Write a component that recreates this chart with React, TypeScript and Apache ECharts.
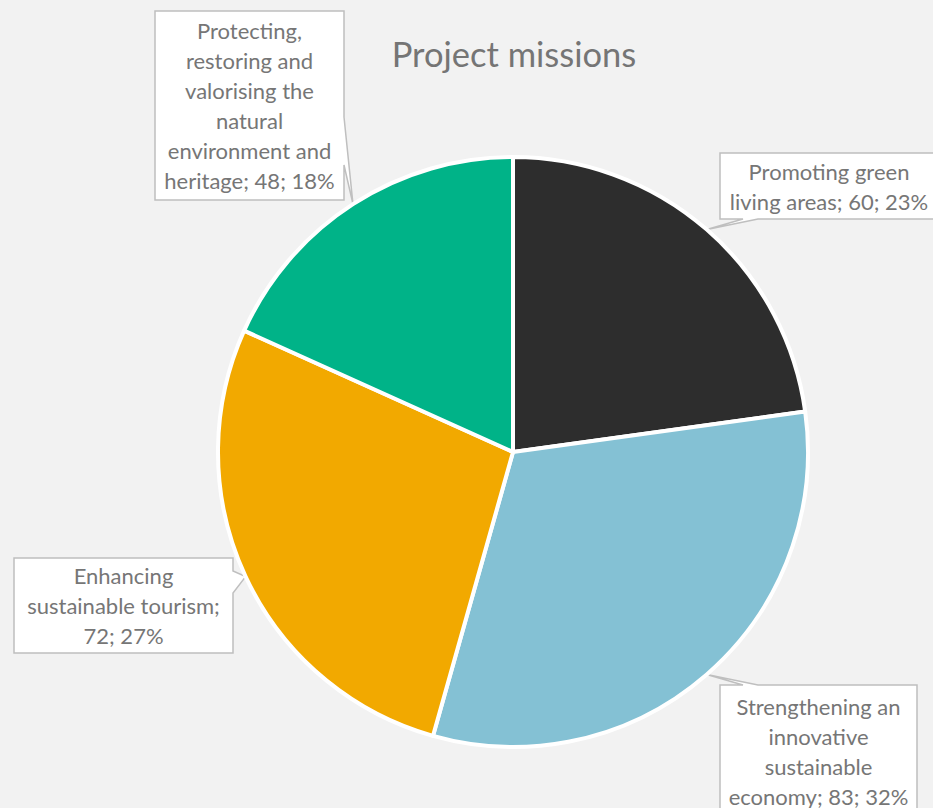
import React, { useEffect, useRef } from "react";
import * as echarts from "echarts";

const categories = [
  "Promoting green living areas",
  "Strengthening an innovative sustainable economy",
  "Enhancing sustainable tourism",
  "Protecting, restoring and valorising the natural environment and heritage",
];
const values = [60, 83, 72, 48];
const colors = ["#2d2d2d", "#84c1d4", "#f2a900", "#00b388"];

// wrapped label text (display only)
const wrappedNames = [
  "Promoting green\nliving areas",
  "Strengthening an\ninnovative\nsustainable\neconomy",
  "Enhancing\nsustainable tourism",
  "Protecting,\nrestoring and\nvalorising the\nnatural\nenvironment and\nheritage",
];
const separators = ["; ", "; ", ";\n", "; "];

// layout of the pie and callout boxes
const CENTER: [number, number] = [513, 452];
const RADIUS = 295;
// [x, y, w, h]
const boxes: [number, number, number, number][] = [
  [720, 153, 218, 66],
  [720, 685, 197, 132],
  [14, 558, 219, 95],
  [155, 11, 189, 189],
];
const wedgeSide = ["bottom", "top", "right", "right"];
const wedgeBase: [number, number][] = [
  [743, 758],
  [743, 758],
  [571, 593],
  [117, 165],
];

const FONT = "Lato";

function sliceTips() {
  const total = values.reduce((a, b) => a + b, 0);
  let acc = 0;
  return values.map((v) => {
    const mid = ((acc + v / 2) / total) * Math.PI * 2;
    acc += v;
    return [
      CENTER[0] + RADIUS * Math.sin(mid),
      CENTER[1] - RADIUS * Math.cos(mid),
    ];
  });
}

function calloutPoints(i: number, tip: number[]) {
  const [x, y, w, h] = boxes[i];
  const [b0, b1] = wedgeBase[i];
  const side = wedgeSide[i];
  if (side === "top")
    return [[x, y], [b0, y], tip, [b1, y], [x + w, y], [x + w, y + h], [x, y + h]];
  if (side === "right")
    return [[x, y], [x + w, y], [x + w, b0], tip, [x + w, b1], [x + w, y + h], [x, y + h]];
  // bottom
  return [[x, y], [x + w, y], [x + w, y + h], [b1, y + h], tip, [b0, y + h], [x, y + h]];
}

export default function App() {
  const ref = useRef<HTMLDivElement>(null);
  useEffect(() => {
    if (!ref.current) return;
    const chart = echarts.init(ref.current, undefined, { renderer: "svg" });
    const tips = sliceTips();
    chart.setOption({
      animation: false,
      backgroundColor: "#f2f2f2",
      title: {
        text: "Project missions",
        left: 509,
        textAlign: "center",
        top: 31,
        textStyle: {
          fontFamily: FONT,
          fontSize: 34.5,
          fontWeight: "normal",
          color: "#757575",
        },
      },
      graphic: boxes.map((b, i) => ({
        type: "polygon",
        z: 0,
        shape: { points: calloutPoints(i, tips[i]) },
        style: { fill: "#ffffff", stroke: "#bfbfbf", lineWidth: 1.5 },
        silent: true,
      })),
      series: [
        {
          type: "pie",
          z: 2,
          center: CENTER,
          radius: RADIUS,
          startAngle: 90,
          clockwise: true,
          percentPrecision: 0,
          itemStyle: { borderColor: "#ffffff", borderWidth: 4 },
          emphasis: { disabled: true },
          labelLine: { show: false },
          labelLayout: (params: any) => {
            const b = boxes[params.dataIndex];
            return {
              x: b[0] + b[2] / 2,
              y: b[1] + b[3] / 2,
              align: "center",
              verticalAlign: "middle",
            };
          },
          data: categories.map((name, i) => ({
            name,
            value: values[i],
            itemStyle: { color: colors[i] },
            label: {
              show: true,
              position: "outside",
              overflow: "none",
              formatter: (p: any) =>
                `${wrappedNames[i]}${separators[i]}${p.value}; ${p.percent}%`,
              fontFamily: FONT,
              fontSize: 22,
              lineHeight: 30,
              color: "#767676",
              align: "center",
            },
          })),
        },
      ],
    });
    return () => chart.dispose();
  }, []);
  return (
    <div
      ref={ref}
      style={{ position: "fixed", left: 0, top: 0, width: 933, height: 808 }}
    />
  );
}
